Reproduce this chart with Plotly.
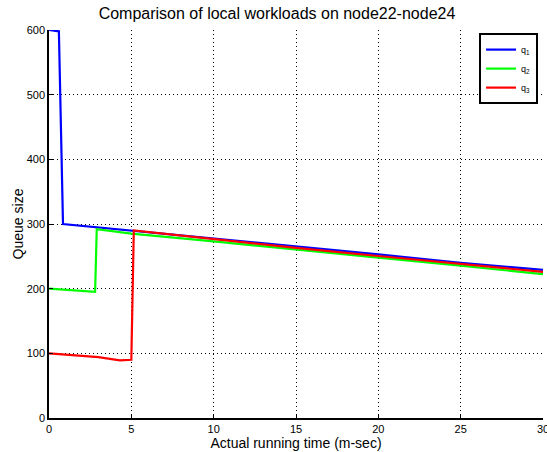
import plotly.graph_objects as go

# Data
q1_x = [0, 0.6, 0.85, 5, 10, 15, 20, 25, 30]
q1_y = [600, 598, 300, 290, 278, 265, 253, 240, 229]

q2_x = [0, 2.0, 2.8, 2.9, 5, 10, 15, 20, 25, 30]
q2_y = [200, 196, 195, 292, 285, 273, 260, 248, 235.5, 222.5]

q3_x = [0, 3.0, 4.3, 5.0, 5.15, 10, 15, 20, 25, 30]
q3_y = [100, 94, 89, 90, 290, 276.5, 263, 250.5, 238, 226]

series = [
    ("q<sub>1</sub>", q1_x, q1_y, "#0000ff"),
    ("q<sub>2</sub>", q2_x, q2_y, "#00ff00"),
    ("q<sub>3</sub>", q3_x, q3_y, "#ff0000"),
]

x_ticks = [0, 5, 10, 15, 20, 25, 30]
y_ticks = [0, 100, 200, 300, 400, 500, 600]

fig = go.Figure()
for name, xs, ys, col in series:
    fig.add_trace(go.Scatter(x=xs, y=ys, mode="lines", name=name,
                             line=dict(color=col, width=2.2), cliponaxis=False))

font_family = "Liberation Sans, Arial, sans-serif"
fig.update_layout(
    width=547, height=452,
    margin=dict(l=49, r=4, t=30, b=34, autoexpand=False),
    paper_bgcolor="white", plot_bgcolor="white",
    font=dict(family=font_family, color="black"),
    title=dict(text="Comparison of local workloads on node22-node24",
               x=277/547, xref="container", xanchor="center",
               y=1 - 13/452, yref="container", yanchor="middle",
               font=dict(size=16, color="black")),
    showlegend=True,
    legend=dict(x=0.99, y=0.992, xanchor="right", yanchor="top",
                bgcolor="white", bordercolor="black", borderwidth=2,
                font=dict(size=9), tracegroupgap=0, itemwidth=30),
)
fig.update_xaxes(
    range=[0, 30], tickvals=x_ticks, ticktext=[str(v) for v in x_ticks],
    showgrid=True, gridcolor="black", griddash="1px,3px", gridwidth=1,
    showline=True, linecolor="black", linewidth=1.5,
    ticks="inside", ticklen=4, tickcolor="black", ticklabeloverflow="allow",
    tickfont=dict(size=11), zeroline=False, automargin=False,
    title=dict(text="Actual running time (m-sec)", font=dict(size=14), standoff=0),
)
fig.update_yaxes(
    range=[0, 600], tickvals=y_ticks, ticktext=[str(v) for v in y_ticks],
    showgrid=True, gridcolor="black", griddash="1px,3px", gridwidth=1,
    showline=True, linecolor="black", linewidth=1.5,
    ticks="inside", ticklen=4, tickcolor="black", ticklabeloverflow="allow",
    tickfont=dict(size=11), zeroline=False, automargin=False,
    title=dict(text="Queue size", font=dict(size=14), standoff=0),
)

fig.write_html("out.html", config={"displayModeBar": False},
               post_script="document.body.style.margin='0';document.body.style.overflow='hidden';")
